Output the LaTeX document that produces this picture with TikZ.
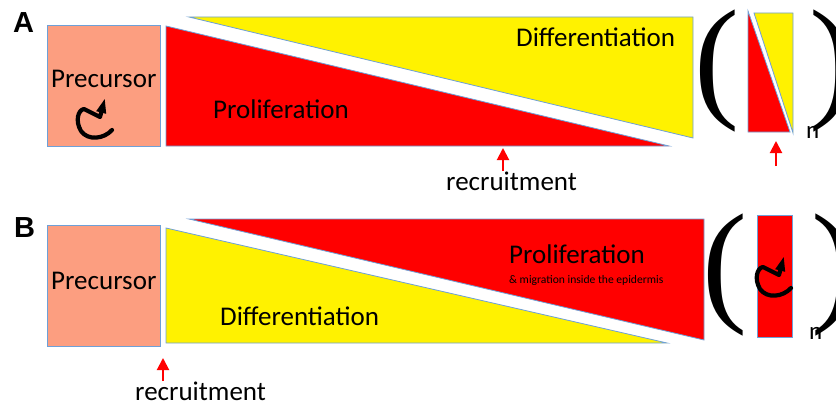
\documentclass[tikz,border=0pt]{standalone}
\usepackage{fontspec}
\setmainfont{Carlito}
\newfontfamily\panelfont{Liberation Sans}
\newfontfamily\parenfont{Liberation Serif}
\usetikzlibrary{arrows.meta}
\definecolor{salmon}{RGB}{252,158,128}
\definecolor{edgeblue}{RGB}{110,160,215}

\begin{document}
\begin{tikzpicture}[x=1pt,y=-1pt,
  block/.style={draw=edgeblue, line width=0.8pt},
  txt/.style={anchor=base west, inner sep=0pt, font=\fontsize{27}{27}\selectfont},
  smalltxt/.style={anchor=base west, inner sep=0pt, font=\fontsize{11.6}{12}\selectfont},
  idx/.style={anchor=base west, inner sep=0pt, font=\fontsize{25}{25}\selectfont},
  paren/.style={anchor=base west, inner sep=0pt, font=\parenfont\fontsize{135}{135}\selectfont},
  panel/.style={anchor=base west, inner sep=0pt, font=\panelfont\bfseries\fontsize{29}{29}\selectfont},
  recruit/.style={red, line width=2pt, -{Triangle[width=12pt,length=12pt]}},
  renew/.style={line width=4.2pt, line cap=round, line join=round, -{Triangle[width=9pt,length=15pt]}}]
\useasboundingbox (0,0) rectangle (836,404);

\draw[block, fill=salmon] (47,25) rectangle (160,146);
\draw[block, fill=red] (166,26) -- (166,146) -- (669,146) -- cycle;
\draw[block, fill=yellow] (189,17) -- (693,17) -- (693,138) -- cycle;
\draw[block, fill=red] (748,11) -- (748,132) -- (790,132) -- cycle;
\draw[block, fill=yellow] (754,13) -- (793,13) -- (793,133) -- cycle;

\draw[block, fill=salmon] (47,225) rectangle (160,346);
\draw[block, fill=yellow] (166,228) -- (166,343) -- (667,343) -- cycle;
\draw[block, fill=red] (189,219) -- (704,219) -- (704,340) -- cycle;
\draw[block, fill=red] (757,215) rectangle (792,337);

\node[panel] (labA) at (13,33) {A};
\node[txt] (precA) at (51,88) {Precursor};
\node[txt] (prolA) at (213,118) {Proliferation};
\node[txt] (diffA) at (516,47) {Differentiation};
\node[txt] (recA) at (446,190) {recruitment};
\node[paren] (lpA) at (694,103) {(};
\node[paren] (rpA) at (809,103) {)};
\node[idx] (nA) at (806,138) {n};

\node[panel] (labB) at (14,237) {B};
\node[txt] (precB) at (51,289) {Precursor};
\node[txt] (diffB) at (220,325) {Differentiation};
\node[txt] (prolB) at (509,263) {Proliferation};
\node[smalltxt] (migB) at (509,283) {\& migration inside the epidermis};
\node[txt] (recB) at (135,400) {recruitment};
\node[paren] (lpB) at (702,307) {(};
\node[paren] (rpB) at (811,307) {)};
\node[idx] (nB) at (809,339) {n};

\coordinate (tipA) at (503,148);
\coordinate (tipS) at (776,141);
\coordinate (tailS) at (776,166);
\coordinate (tipB) at (163,358);
\draw[recruit] (tipA |- recA.north) -- (tipA);
\draw[recruit] (tailS) -- (tipS);
\draw[recruit] (tipB |- recB.north) -- (tipB);

\draw[renew] (112,130) .. controls (104,139) and (88,141) .. (81,131) .. controls (75,121) and (78,110) .. (84,109) -- (100,117) -- (105,98);
\draw[renew, shift={(679,158)}] (112,130) .. controls (104,139) and (88,141) .. (81,131) .. controls (75,121) and (78,110) .. (84,109) -- (100,117) -- (105,98);
\end{tikzpicture}
\end{document}
